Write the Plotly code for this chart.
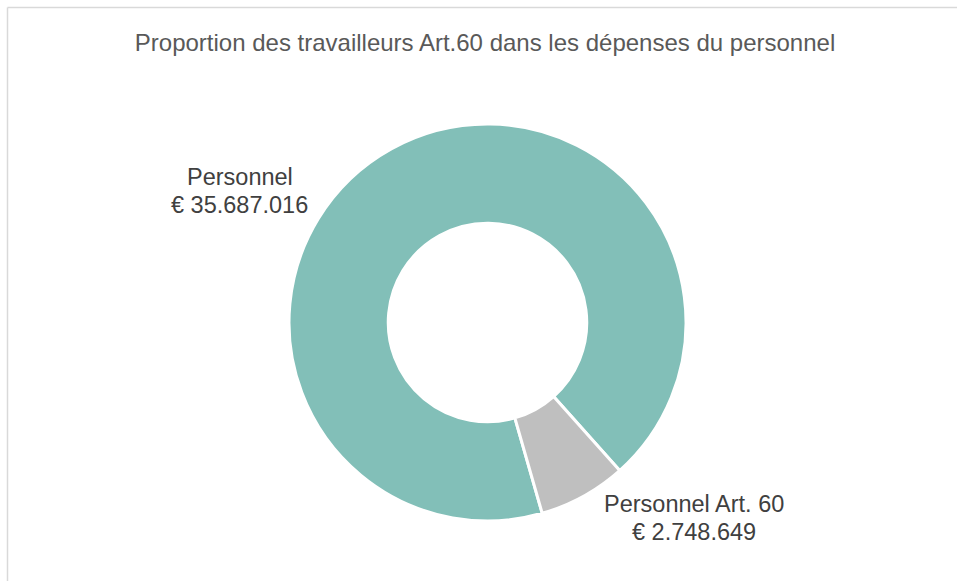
import plotly.graph_objects as go

# Personnel expenses split
categories = ["Personnel", "Personnel Art. 60"]
amounts = [35687016, 2748649]
colors = ["#82BFB8", "#BFBFBF"]
title_text = "Proportion des travailleurs Art.60 dans les dépenses du personnel"

W, H = 957, 581
FONT = "Liberation Sans, Arial"


def euro(v):
    return "€ " + f"{v:,}".replace(",", ".")


fig = go.Figure(
    go.Pie(
        labels=categories,
        values=amounts,
        hole=0.5,
        sort=False,
        direction="clockwise",
        rotation=164,
        marker=dict(colors=colors, line=dict(color="white", width=3)),
        textinfo="none",
        hoverinfo="label+value",
        showlegend=False,
        domain=dict(x=[289 / W, 686 / W], y=[1 - 521 / H, 1 - 124 / H]),
    )
)

# Outside labels: name line and amount line for each slice
label_pos = [(240, 177, 205), (694, 504, 532)]
for cat, val, (px, py1, py2) in zip(categories, amounts, label_pos):
    for txt, py in ((cat, py1), (euro(val), py2)):
        fig.add_annotation(
            x=px / W, y=1 - py / H, xref="paper", yref="paper",
            text=txt, showarrow=False,
            xanchor="center", yanchor="middle", align="center",
            font=dict(family=FONT, size=23.5, color="#404040"),
        )

# Chart frame (top and left edges)
frame = dict(color="#D9D9D9", width=1.5)
fig.add_shape(type="line", xref="paper", yref="paper",
              x0=7.5 / W, x1=1, y0=1 - 7.5 / H, y1=1 - 7.5 / H, line=frame)
fig.add_shape(type="line", xref="paper", yref="paper",
              x0=7.5 / W, x1=7.5 / W, y0=0, y1=1 - 7.5 / H, line=frame)

fig.update_layout(
    width=W, height=H,
    margin=dict(l=0, r=0, t=0, b=0),
    paper_bgcolor="white", plot_bgcolor="white",
    title=dict(
        text=title_text, x=485 / W, xanchor="center",
        y=1 - 43 / H, yanchor="middle",
        font=dict(family=FONT, size=24, color="#595959"),
    ),
)

fig.write_html("out.html")
